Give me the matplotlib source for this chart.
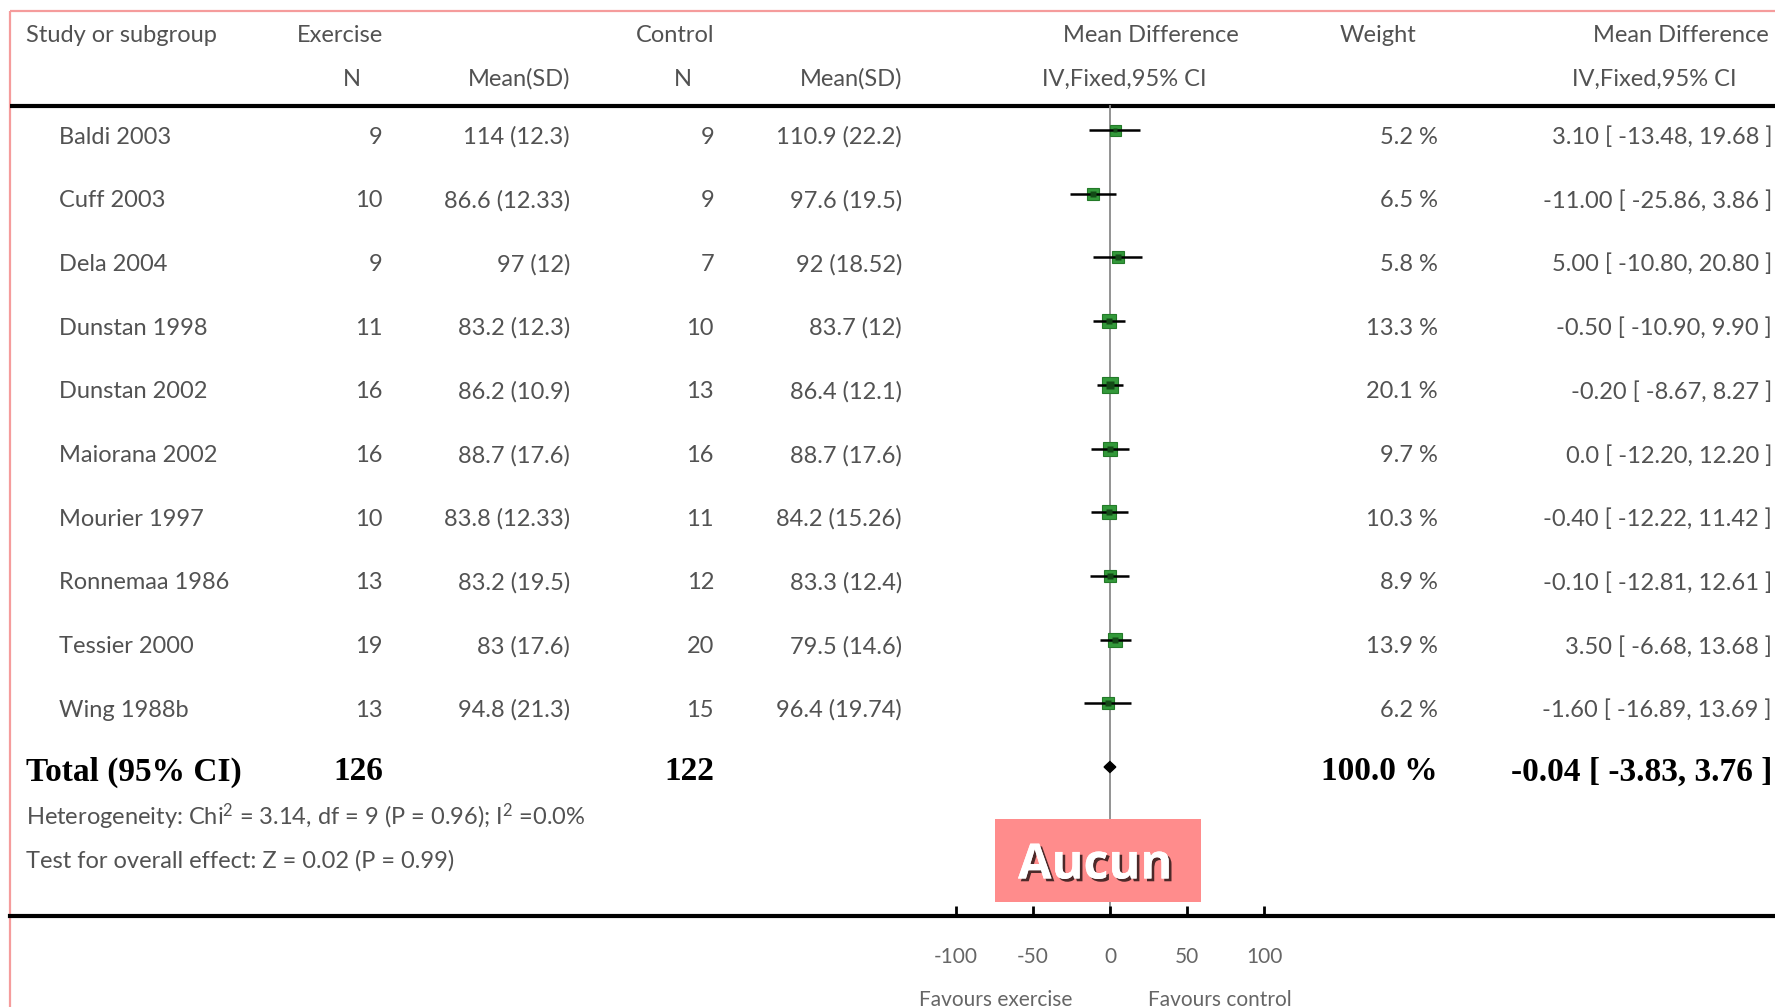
import matplotlib
matplotlib.use("Agg")
import matplotlib.pyplot as plt
import matplotlib.patheffects as pe
from matplotlib.patches import Rectangle

# ---------------- data ----------------
studies = ["Baldi 2003", "Cuff 2003", "Dela 2004", "Dunstan 1998", "Dunstan 2002",
           "Maiorana 2002", "Mourier 1997", "Ronnemaa 1986", "Tessier 2000", "Wing 1988b"]
ex_n = [9, 10, 9, 11, 16, 16, 10, 13, 19, 13]
ex_mean_sd = ["114 (12.3)", "86.6 (12.33)", "97 (12)", "83.2 (12.3)", "86.2 (10.9)",
              "88.7 (17.6)", "83.8 (12.33)", "83.2 (19.5)", "83 (17.6)", "94.8 (21.3)"]
ctl_n = [9, 9, 7, 10, 13, 16, 11, 12, 20, 15]
ctl_mean_sd = ["110.9 (22.2)", "97.6 (19.5)", "92 (18.52)", "83.7 (12)", "86.4 (12.1)",
               "88.7 (17.6)", "84.2 (15.26)", "83.3 (12.4)", "79.5 (14.6)", "96.4 (19.74)"]
weights = [5.2, 6.5, 5.8, 13.3, 20.1, 9.7, 10.3, 8.9, 13.9, 6.2]
md = [3.10, -11.00, 5.00, -0.50, -0.20, 0.0, -0.40, -0.10, 3.50, -1.60]
ci_lo = [-13.48, -25.86, -10.80, -10.90, -8.67, -12.20, -12.22, -12.81, -6.68, -16.89]
ci_hi = [19.68, 3.86, 20.80, 9.90, 8.27, 12.20, 11.42, 12.61, 13.68, 13.69]
ci_text = ["3.10 [ -13.48, 19.68 ]", "-11.00 [ -25.86, 3.86 ]", "5.00 [ -10.80, 20.80 ]",
           "-0.50 [ -10.90, 9.90 ]", "-0.20 [ -8.67, 8.27 ]", "0.0 [ -12.20, 12.20 ]",
           "-0.40 [ -12.22, 11.42 ]", "-0.10 [ -12.81, 12.61 ]", "3.50 [ -6.68, 13.68 ]",
           "-1.60 [ -16.89, 13.69 ]"]
total_ex_n = 126
total_ctl_n = 122
total_weight = "100.0 %"
total_md = -0.04
total_lo = -3.83
total_hi = 3.76
total_text = "-0.04 [ -3.83, 3.76 ]"
x_ticks = [-100, -50, 0, 50, 100]
heterogeneity = r"Heterogeneity: Chi$^{2}$ = 3.14, df = 9 (P = 0.96); I$^{2}$ =0.0%"
overall = "Test for overall effect: Z = 0.02 (P = 0.99)"

# ---------------- style ----------------
FONT = ["Lato", "DejaVu Sans"]
plt.rcParams["font.family"] = FONT
plt.rcParams["mathtext.fontset"] = "custom"
plt.rcParams["mathtext.rm"] = "Lato"
plt.rcParams["mathtext.it"] = "Lato"
plt.rcParams["mathtext.default"] = "regular"
TXT = "#525252"
FS = 17
FW = "normal"
SERIF = ["Liberation Serif", "DejaVu Serif"]
BFS = 24

W, H = 1775, 1007
fig = plt.figure(figsize=(W / 100, H / 100), dpi=100)
fig.patch.set_facecolor("white")

# forest axes (whole figure, data units of mean difference / row index)
X0PX, PXU = 1110.0, 1.54          # zero position, pixels per unit
ROW0, ROWH = 130.0, 63.7           # first row marker y, row spacing (px)
ax = fig.add_axes([0, 0, 1, 1])
ax.set_xlim(-X0PX / PXU, (W - X0PX) / PXU)
ax.set_ylim((H - ROW0) / ROWH, -ROW0 / ROWH)
ax.patch.set_alpha(0)
for s in ["top", "left", "right"]:
    ax.spines[s].set_visible(False)
ax.yaxis.set_visible(False)
axis_row = (916 - ROW0) / ROWH
top_row = (106 - ROW0) / ROWH
ax.spines["bottom"].set_position(("data", axis_row))
ax.spines["bottom"].set_linewidth(3.0)
ax.spines["bottom"].set_bounds((10 - X0PX) / PXU, (W - X0PX) / PXU)
ax.set_xticks(x_ticks)
ax.set_xticklabels([str(t) for t in x_ticks])
ax.tick_params(axis="x", direction="in", length=7.5, width=2.0, pad=22,
               labelsize=15, labelcolor="#666666", color="black")

# layout overlay axes (pixel coordinates)
lay = fig.add_axes([0, 0, 1, 1], zorder=-1)
lay.set_xlim(0, W)
lay.set_ylim(H, 0)
lay.axis("off")

# pink frame
lay.plot([10, 10], [11, H], color="#f59c9c", lw=1.6, solid_capstyle="butt")
lay.plot([10, W], [11, 11], color="#f59c9c", lw=1.6, solid_capstyle="butt")
# header rule
lay.plot([10, W], [106, 106], color="black", lw=3.0, solid_capstyle="butt")

# zero line
ax.plot([0, 0], [top_row, axis_row], color="#8a8a8a", lw=1.3, zorder=1)

# headers
hdr1, hdr2 = 35, 79
def t(x, y, s, ha="left", **kw):
    d = dict(fontsize=FS, color=TXT, va="center", ha=ha, fontweight=FW)
    d.update(kw)
    lay.text(x, y, s, **d)

t(26, hdr1, "Study or subgroup")
t(383, hdr1, "Exercise", ha="right")
t(714, hdr1, "Control", ha="right")
t(1151, hdr1, "Mean Difference", ha="center")
t(1378, hdr1, "Weight", ha="center")
t(1769, hdr1, "Mean Difference", ha="right")
t(352, hdr2, "N", ha="center")
t(570, hdr2, "Mean(SD)", ha="right")
t(683, hdr2, "N", ha="center")
t(902, hdr2, "Mean(SD)", ha="right")
t(1124, hdr2, "IV,Fixed,95% CI", ha="center")
t(1654, hdr2, "IV,Fixed,95% CI", ha="center")

# study rows
for i, name in enumerate(studies):
    y = ROW0 + ROWH * i + 7
    t(59, y, name)
    t(383, y, str(ex_n[i]), ha="right")
    t(570, y, ex_mean_sd[i], ha="right")
    t(714, y, str(ctl_n[i]), ha="right")
    t(902, y, ctl_mean_sd[i], ha="right")
    t(1438, y, f"{weights[i]:.1f} %", ha="right")
    t(1772, y, ci_text[i], ha="right")

# forest marks
for i in range(len(studies)):
    side_px = 11.0 * (weights[i] / 5.2) ** 0.3
    ax.plot([md[i]], [i], marker="s", markersize=side_px * 0.72,
            markerfacecolor="#33993a", markeredgecolor="#237a28",
            markeredgewidth=0.8, zorder=3)
    ax.plot([ci_lo[i], ci_hi[i]], [i, i], color="black", lw=1.8, zorder=4,
            solid_capstyle="butt")
    ax.plot([md[i]], [i], marker="s", markersize=side_px * 0.72 * 0.45,
            markerfacecolor="#124a16", markeredgecolor="none", zorder=5)

# total row
n = len(studies)
ty = ROW0 + ROWH * n + 5
bold = dict(family=SERIF, fontweight="bold", fontsize=BFS, color="black")
t(26, ty, "Total (95% CI)", **bold)
t(383, ty, str(total_ex_n), ha="right", **bold)
t(714, ty, str(total_ctl_n), ha="right", **bold)
t(1438, ty, total_weight, ha="right", **bold)
t(1772, ty, total_text, ha="right", **bold)
dy = 5.5 / ROWH
yt = (767 - ROW0) / ROWH
ax.fill([total_lo, total_md, total_hi, total_md],
        [yt, yt - dy, yt, yt + dy], color="black", zorder=5)

t(26, 817, heterogeneity)
t(26, 861, overall)

# favours labels
t(996, 1000, "Favours exercise", ha="center", fontsize=15, color="#666666")
t(1220, 1000, "Favours control", ha="center", fontsize=15, color="#666666")

# "Aucun" box overlay
box_ax = fig.add_axes([0, 0, 1, 1], zorder=5)
box_ax.set_xlim(0, W)
box_ax.set_ylim(H, 0)
box_ax.axis("off")
box_ax.add_patch(Rectangle((995, 819), 206, 83, facecolor="#ff8c8c", edgecolor="none"))
box_ax.text(1095, 866, "Aucun", ha="center", va="center", color="white",
            fontsize=35, fontweight="bold", family=["Open Sans", "DejaVu Sans"],
            path_effects=[pe.withSimplePatchShadow(offset=(2, -2), shadow_rgbFace="black", alpha=0.7),
                          pe.Normal()])

fig.savefig("out.png", dpi=100, facecolor="white")
